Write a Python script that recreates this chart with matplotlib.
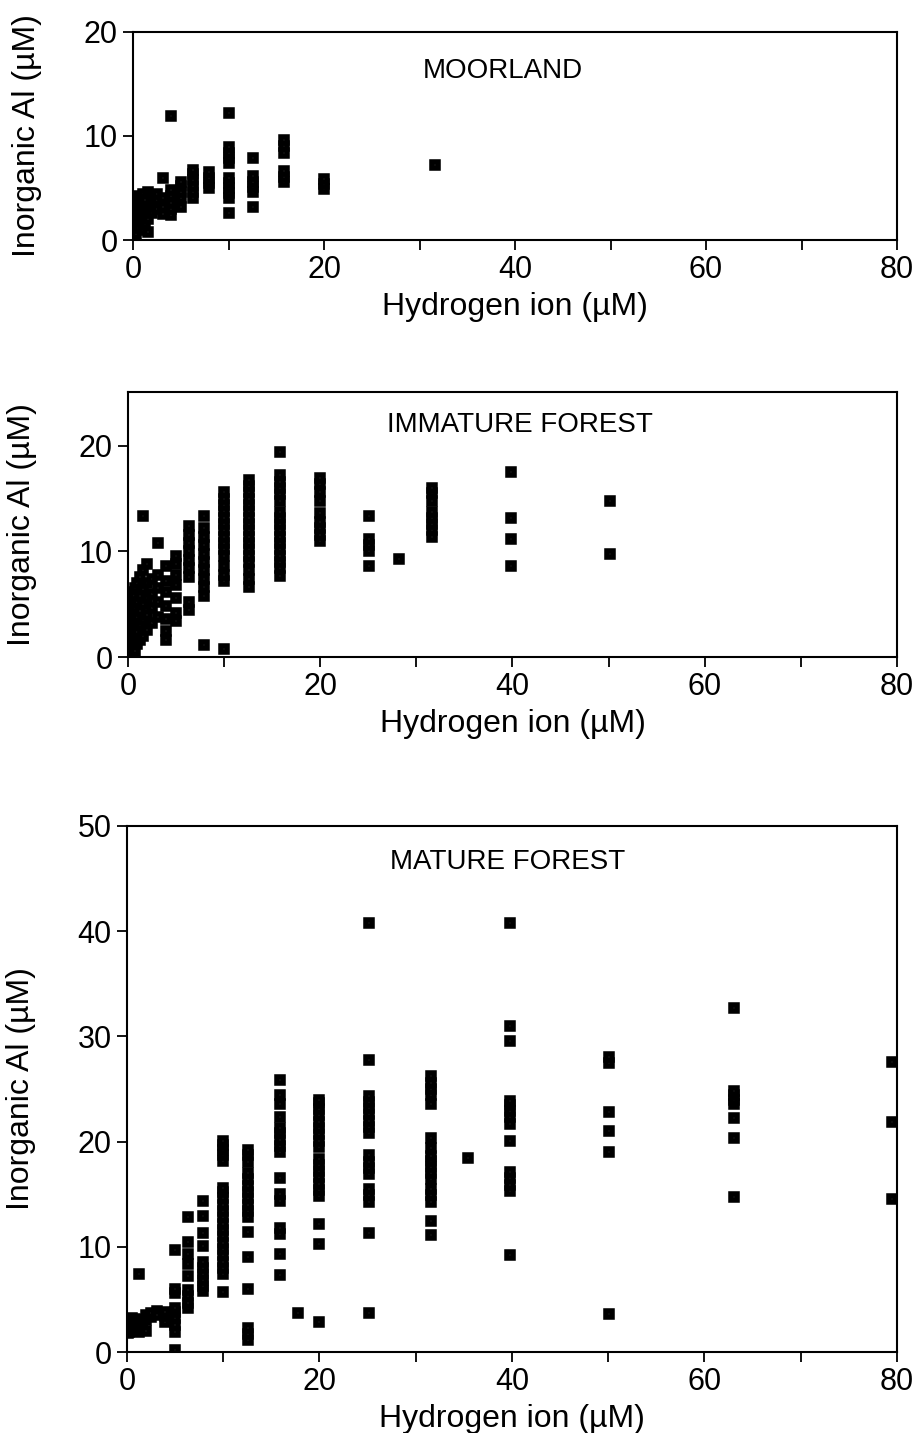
import matplotlib
matplotlib.use("Agg")
import matplotlib.pyplot as plt
import numpy as np

plt.rcParams['font.family'] = ['Liberation Sans Narrow', 'Liberation Sans', 'DejaVu Sans']

# Moorland : hydrogen ion (uM) vs inorganic Al (uM)
moor_x = [0.1]*3 + [0.2]*3 + [0.32]*4 + [0.5]*4 + [0.63]*3 + [0.79]*3 + [1.0]*4 \
    + [1.26]*3 + [1.58]*4 + [2.0]*3 + [2.51]*3 + [3.16]*4 + [3.98]*6 + [5.01]*5 \
    + [6.31]*6 + [7.94]*4 + [10.0]*11 + [12.59]*6 + [15.85]*6 + [19.95]*3 + [31.6]
moor_y = [0.3, 0.8, 1.5,
          1.0, 2.0, 2.8,
          0.6, 1.6, 2.5, 3.4,
          1.2, 2.2, 3.0, 3.8,
          2.6, 3.6, 4.2,
          1.8, 3.0, 4.0,
          1.0, 2.3, 3.3, 4.4,
          1.5, 2.8, 3.8,
          0.8, 2.0, 3.2, 4.6,
          2.6, 3.5, 4.2,
          3.0, 3.8, 4.4,
          2.5, 3.2, 4.0, 6.0,
          2.4, 3.0, 3.6, 4.2, 4.8, 11.9,
          3.2, 4.0, 4.6, 5.2, 5.6,
          4.0, 4.6, 5.2, 5.8, 6.3, 6.7,
          5.0, 5.5, 6.0, 6.5,
          2.6, 4.0, 4.5, 5.0, 5.5, 6.0, 7.4, 7.9, 8.4, 8.9, 12.2,
          3.2, 4.6, 5.1, 5.6, 6.2, 7.9,
          5.6, 6.1, 6.6, 8.4, 9.0, 9.6,
          4.9, 5.4, 5.9,
          7.2]

# Immature forest
imm_x = [0.1]*4 + [0.2]*5 + [0.32]*6 + [0.5]*6 + [0.63]*5 + [0.79]*5 + [1.0]*5 \
    + [1.26]*5 + [1.58]*6 + [2.0]*5 + [2.51]*4 + [3.16]*5 + [3.98]*7 + [5.01]*7 \
    + [6.31]*9 + [7.94]*11 + [10.0]*15 + [12.59]*17 + [15.85]*17 + [19.95]*9 \
    + [25.12]*5 + [28.18] + [31.62]*8 + [39.81]*4 + [50.12]*2
imm_y = [0.4, 1.2, 2.0, 3.5,
         0.8, 1.6, 2.6, 3.8, 4.6,
         0.3, 1.0, 1.8, 3.0, 4.2, 5.5,
         0.5, 1.4, 2.2, 3.6, 5.0, 6.2,
         0.2, 1.0, 2.8, 4.0, 5.8,
         0.6, 1.8, 3.3, 4.6, 6.5,
         1.2, 2.4, 3.8, 5.2, 7.0,
         1.6, 3.0, 4.4, 5.8, 7.6,
         2.0, 3.5, 5.0, 6.4, 8.2, 13.4,
         2.6, 4.0, 5.6, 7.0, 8.8,
         3.2, 4.6, 6.0, 7.4,
         3.8, 5.2, 6.5, 7.8, 10.8,
         1.6, 2.5, 3.6, 4.8, 6.2, 7.2, 8.6,
         3.4, 4.2, 5.6, 6.8, 7.8, 8.8, 9.6,
         4.5, 5.2, 7.6, 8.4, 9.2, 10.0, 10.8, 11.6, 12.4,
         1.1, 5.8, 6.6, 7.4, 8.2, 9.0, 9.8, 10.6, 11.4, 12.2, 13.4,
         0.8, 7.2, 7.8, 8.6, 9.6, 10.2, 10.8, 11.4, 12.0, 12.6, 13.2, 13.8, 14.4, 15.0, 15.6,
         6.6, 7.4, 8.2, 9.0, 9.6, 10.2, 10.8, 11.4, 12.0, 12.6, 13.2, 13.8, 14.4, 15.0, 15.6, 16.2, 16.8,
         7.7, 8.4, 9.0, 9.6, 10.2, 10.8, 11.4, 12.0, 12.6, 13.2, 13.7, 14.8, 15.4, 16.0, 16.6, 17.2, 19.4,
         11.0, 11.6, 12.2, 12.8, 13.6, 14.8, 15.6, 16.4, 17.0,
         8.6, 10.0, 10.6, 11.2, 13.4,
         9.3,
         11.4, 12.0, 12.6, 13.2, 13.7, 14.8, 15.5, 16.0,
         8.6, 11.2, 13.2, 17.5,
         9.8, 14.8]

# Mature forest
mat_x = [0.1]*2 + [0.2]*2 + [0.32]*2 + [0.5]*3 + [0.79]*3 + [1.0]*2 + [1.26]*3 \
    + [1.58]*2 + [2.0]*3 + [2.51]*2 + [3.16]*2 + [3.98]*3 + [5.01]*9 + [6.31]*9 \
    + [7.94]*10 + [10.0]*21 + [12.59]*17 + [15.85]*16 + [17.78] + [19.95]*19 \
    + [25.12]*18 + [31.62]*17 + [35.48] + [39.81]*14 + [50.12]*6 + [63.1]*8 + [79.43]*3
mat_y = [1.8, 2.2,
         1.9, 2.4,
         2.0, 2.6,
         2.2, 2.8, 3.2,
         2.0, 2.5, 3.1,
         2.3, 3.0,
         1.9, 2.6, 7.4,
         2.2, 2.9,
         2.0, 3.0, 3.5,
         3.3, 3.7,
         3.9, 3.5,
         2.9, 3.4, 3.8,
         0.2, 1.9, 2.6, 3.2, 3.8, 4.2, 5.6, 6.0, 9.7,
         4.2, 4.7, 5.3, 5.9, 7.2, 8.4, 9.3, 10.5, 12.8,
         5.8, 6.3, 6.8, 7.4, 8.0, 8.6, 10.1, 11.3, 12.9, 14.4,
         5.7, 7.4, 8.0, 8.6, 9.2, 9.8, 10.4, 11.0, 11.6, 12.2, 12.8, 13.4, 14.0, 14.6, 15.2, 15.6,
         18.2, 18.7, 19.2, 19.7, 20.1,
         1.1, 1.7, 2.3, 6.0, 9.0, 11.4, 12.8, 13.4, 14.0, 14.6, 15.2, 15.8, 16.4, 17.0, 18.1, 18.7, 19.2,
         7.3, 9.3, 11.2, 11.8, 14.4, 15.0, 16.5, 19.0, 19.6, 20.2, 20.8, 21.3, 22.3, 23.6, 24.4, 25.9,
         3.7,
         2.9, 10.3, 12.2, 14.8, 15.4, 16.0, 16.6, 17.2, 17.8, 18.3, 19.5, 20.1, 20.7, 21.3, 21.9,
         22.5, 23.1, 23.7, 24.0,
         3.7, 11.3, 14.3, 14.9, 15.5, 16.9, 17.5, 18.1, 18.7, 20.8, 21.4, 22.0, 22.6, 23.2, 23.8,
         24.3, 27.8, 40.8,
         11.1, 12.5, 14.3, 14.9, 15.5, 16.4, 17.0, 17.6, 18.2, 18.6, 19.4, 20.3, 23.6, 24.4, 25.0,
         25.6, 26.2,
         18.4,
         9.2, 15.3, 15.9, 16.5, 17.1, 20.1, 21.7, 22.3, 22.9, 23.5, 23.9, 29.6, 31.0, 40.8,
         3.6, 19.0, 21.0, 22.8, 27.5, 28.0,
         14.7, 20.3, 22.2, 23.6, 24.0, 24.4, 24.8, 32.7,
         14.5, 21.9, 27.6]

panels = [
    (moor_x, moor_y, "MOORLAND", 20, [0, 10, 20], (38.7, 16.2), [0.1446, 0.8325, 0.8304, 0.1452]),
    (imm_x, imm_y, "IMMATURE FOREST", 25.1, [0, 10, 20], (40.8, 22.0), [0.139, 0.5415, 0.836, 0.1849]),
    (mat_x, mat_y, "MATURE FOREST", 50, [0, 10, 20, 30, 40, 50], (39.5, 46.6), [0.138, 0.0565, 0.837, 0.3671]),
]

fig = plt.figure(figsize=(9.2, 14.33), dpi=100)

for xs, ys, name, ymax, yt, tpos, rect in panels:
    ax = fig.add_axes(rect)
    # near-solid squares with a tiny white centre, like the scanned figure
    ax.plot(xs, ys, linestyle='none', marker='s', markersize=4.8,
            markerfacecolor='white', markeredgecolor='black', markeredgewidth=4.0)
    ax.set_xlim(0, 80)
    ax.set_ylim(0, ymax)
    ax.set_xticks(np.arange(0, 81, 10))
    ax.set_xticklabels(['0', '', '20', '', '40', '', '60', '', '80'])
    ax.set_yticks(yt)
    ax.tick_params(direction='out', length=7, width=1.3, labelsize=22, pad=4)
    for s in ax.spines.values():
        s.set_linewidth(1.5)
    ax.text(tpos[0], tpos[1], name, ha='center', va='center', fontsize=20)
    ax.set_xlabel("Hydrogen ion (µM)", fontsize=23, labelpad=5)
    ax.set_ylabel("Inorganic Al (µM)", fontsize=23, labelpad=30)

fig.savefig("out.png", dpi=100)
